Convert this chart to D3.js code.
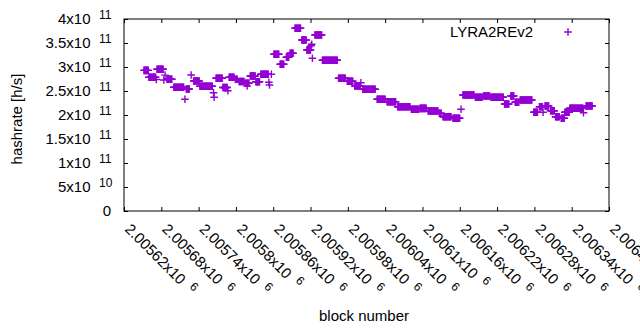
<!DOCTYPE html>
<html>
<head>
<meta charset="utf-8">
<script src="https://cdn.jsdelivr.net/npm/d3@7"></script>
<style>
  html, body { margin: 0; padding: 0; background: #fff; }
  svg { display: block; }
  text { font-family: "Liberation Sans", Arial, sans-serif; fill: #000; }
</style>
</head>
<body>
<svg id="chart" width="640" height="330"></svg>
<script>
// ---- data ----
// Each run: a stretch of consecutive blocks that share the same hashrate estimate.
const runFirstBlock = [2005652,2005660,2005672,2005673,2005684,2005686,2005689,2005700,2005718,2005720,
  2005728,2005732,2005742,2005764,2005765,2005768,2005779,2005787,2005789,2005799,
  2005805,2005815,2005818,2005823,2005832,2005840,2005853,2005854,2005857,2005861,
  2005871,2005881,2005887,2005895,2005906,2005914,2005921,2005922,2005923,2005927,
  2005939,2005965,2005979,2005991,2006001,2006004,2006027,2006043,2006060,2006082,
  2006096,2006109,2006127,2006133,2006149,2006162,2006165,2006185,2006198,2006210,
  2006232,2006242,2006249,2006257,2006279,2006288,2006294,2006297,2006306,2006314,
  2006323,2006329,2006337,2006359,2006363];
const runLastBlock = [2005659,2005671,2005672,2005683,2005684,2005686,2005697,2005716,2005718,2005725,
  2005728,2005741,2005762,2005764,2005765,2005778,2005786,2005787,2005797,2005802,
  2005813,2005821,2005818,2005831,2005838,2005852,2005853,2005854,2005857,2005869,
  2005877,2005885,2005892,2005904,2005913,2005920,2005921,2005922,2005923,2005938,
  2005963,2005976,2005988,2006000,2006001,2006024,2006040,2006057,2006080,2006094,
  2006106,2006125,2006130,2006146,2006160,2006162,2006183,2006196,2006208,2006230,
  2006239,2006247,2006255,2006276,2006285,2006293,2006294,2006303,2006312,2006320,
  2006328,2006336,2006358,2006359,2006373];
const runHashrate = [2.93e11,2.785e11,2.74e11,2.954e11,2.73e11,2.83e11,2.744e11,2.577e11,2.327e11,2.542e11,
  2.833e11,2.708e11,2.598e11,2.465e11,2.369e11,2.765e11,2.573e11,2.506e11,2.785e11,2.744e11,
  2.698e11,2.66e11,2.604e11,2.812e11,2.694e11,2.848e11,2.681e11,2.625e11,2.848e11,3.267e11,
  3.056e11,3.202e11,3.285e11,3.806e11,3.562e11,3.354e11,3.444e11,3.473e11,3.181e11,3.667e11,
  3.142e11,2.765e11,2.704e11,2.604e11,2.673e11,2.538e11,2.329e11,2.277e11,2.173e11,2.119e11,
  2.139e11,2.083e11,2.035e11,1.965e11,1.931e11,2.119e11,2.417e11,2.369e11,2.396e11,2.369e11,
  2.229e11,2.396e11,2.265e11,2.312e11,2.056e11,2.173e11,2.056e11,2.187e11,2.09e11,1.965e11,
  1.931e11,2.056e11,2.14e11,2.048e11,2.187e11];

const seriesName = "LYRA2REv2";
const xTickBlocks = [2005620,2005680,2005740,2005800,2005860,2005920,2005980,2006040,2006100,2006160,2006220,2006280,2006340,2006400];
const xTickMantissa = ["2.00562","2.00568","2.00574","2.0058","2.00586","2.00592","2.00598","2.00604","2.0061","2.00616","2.00622","2.00628","2.00634","2.0064"];
const xTickExponent = "6";
const yTickValues = [0,5e10,1e11,1.5e11,2e11,2.5e11,3e11,3.5e11,4e11];
const yTickMantissa = ["0","5","1","1.5","2","2.5","3","3.5","4"];
const yTickExponent = ["","10","11","11","11","11","11","11","11"];
const xTitle = "block number";
const yTitle = "hashrate [h/s]";

// ---- layout ----
const L = 124, R = 609, T = 19, B = 211;
const color = "#9400D3";
const svg = d3.select("#chart");

const x = d3.scaleLinear().domain([2005620, 2006400]).range([L, R]);
const y = d3.scaleLinear().domain([0, 4e11]).range([B, T]);

// points: one per block in each run
const points = [];
runFirstBlock.forEach((b0, i) => {
  for (let b = b0; b <= runLastBlock[i]; b++) points.push({block: b, value: runHashrate[i]});
});

const tickLen = 4;
// axes (ticks inward, mirrored)
svg.append("g").attr("transform", `translate(0,${B})`)
  .call(d3.axisBottom(x).tickValues(xTickBlocks).tickSize(-tickLen).tickFormat(""))
  .call(g => g.select(".domain").remove());
svg.append("g").attr("transform", `translate(0,${T})`)
  .call(d3.axisTop(x).tickValues(xTickBlocks).tickSize(-tickLen).tickFormat(""))
  .call(g => g.select(".domain").remove());
svg.append("g").attr("transform", `translate(${L},0)`)
  .call(d3.axisLeft(y).tickValues(yTickValues).tickSize(-tickLen).tickFormat(""))
  .call(g => g.select(".domain").remove());
svg.append("g").attr("transform", `translate(${R},0)`)
  .call(d3.axisRight(y).tickValues(yTickValues).tickSize(-tickLen).tickFormat(""))
  .call(g => g.select(".domain").remove());
svg.selectAll(".tick line").attr("stroke", "#000").attr("stroke-width", 1);

// border
svg.append("rect").attr("x", L).attr("y", T).attr("width", R - L).attr("height", B - T)
  .attr("fill", "none").attr("stroke", "#000").attr("stroke-width", 1);

// y tick labels
yTickValues.forEach((v, i) => {
  const ty = y(v);
  if (yTickExponent[i] === "") {
    svg.append("text").attr("x", 111).attr("y", ty + 5).attr("text-anchor", "end")
      .attr("font-size", 15).text(yTickMantissa[i]);
  } else {
    svg.append("text").attr("x", 90.5).attr("y", ty + 5).attr("text-anchor", "end")
      .attr("font-size", 15).text(yTickMantissa[i] + "x10");
    svg.append("text").attr("x", 99).attr("y", ty - 0.5).attr("text-anchor", "start")
      .attr("font-size", 12).text(yTickExponent[i]);
  }
});

// x tick labels (rotated)
xTickBlocks.forEach((b, i) => {
  const t = svg.append("text")
    .attr("transform", `translate(${x(b)},230) rotate(45)`)
    .attr("font-size", 15);
  t.append("tspan").text(xTickMantissa[i] + "x10");
  t.append("tspan").attr("dx", 8).attr("dy", -5.5).attr("font-size", 12).text(xTickExponent);
});

// axis titles
svg.append("text").attr("x", 364).attr("y", 321).attr("text-anchor", "middle")
  .attr("font-size", 15).text(xTitle);
svg.append("text").attr("transform", "translate(22,119) rotate(-90)")
  .attr("text-anchor", "middle").attr("font-size", 15).text(yTitle);

// points
const cross = "M-3.8,0H3.8M0,-3.8V3.8";
svg.append("g").selectAll("path").data(points).join("path")
  .attr("d", cross)
  .attr("transform", d => `translate(${x(d.block)},${y(d.value)})`)
  .attr("fill", "none").attr("stroke", color).attr("stroke-width", 1.4);

// legend
svg.append("text").attr("x", 533).attr("y", 37).attr("text-anchor", "end")
  .attr("font-size", 15).text(seriesName);
svg.append("path").attr("d", cross).attr("transform", "translate(568,32)")
  .attr("fill", "none").attr("stroke", color).attr("stroke-width", 1.4);
</script>
</body>
</html>
